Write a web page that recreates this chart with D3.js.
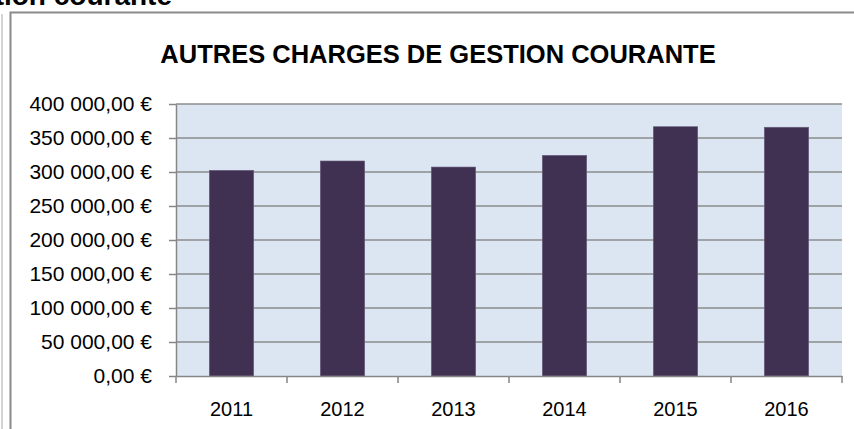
<!DOCTYPE html>
<html>
<head>
<meta charset="utf-8">
<script src="https://cdn.jsdelivr.net/npm/d3@7"></script>
<style>
  body { margin: 0; background: #fff; }
  svg { display: block; }
  .axis text { font-family: "Liberation Sans", Arial, sans-serif; font-size: 20px; fill: #000; }
  .axis.y text { font-size: 21px; }
  .axis path, .axis line { stroke: #868686; stroke-width: 1.5; }
</style>
</head>
<body>
<svg width="854" height="429"></svg>
<script>
// Data
const years = ["2011", "2012", "2013", "2014", "2015", "2016"];
const charges = [302500, 316200, 307300, 324500, 366600, 365800];
const yTicks = [0, 50000, 100000, 150000, 200000, 250000, 300000, 350000, 400000];

const plot = {left: 176, right: 842, top: 104, bottom: 376};

const svg = d3.select("svg");

// sheet heading, cut off at the top of the screenshot
svg.append("text")
   .attr("x", 172)
   .attr("y", 5)
   .attr("text-anchor", "end")
   .style("font-family", "Liberation Sans, Arial, sans-serif")
   .style("font-weight", "bold")
   .style("font-size", "28px")
   .text("Autres charges de gestion courante");

// light cell border on the far left
svg.append("line")
   .attr("x1", 2).attr("x2", 2)
   .attr("y1", 14).attr("y2", 429)
   .style("stroke", "#d4d4d4")
   .style("stroke-width", 2);

// chart frame
svg.append("rect")
   .attr("x", 10.5).attr("y", 12.5)
   .attr("width", 860).attr("height", 440)
   .style("fill", "#fff")
   .style("stroke", "#8a8a8a")
   .style("stroke-width", 2);

svg.append("text")
   .attr("x", 438)
   .attr("y", 63)
   .attr("text-anchor", "middle")
   .style("font-family", "Liberation Sans, Arial, sans-serif")
   .style("font-weight", "bold")
   .style("font-size", "25.5px")
   .text("AUTRES CHARGES DE GESTION COURANTE");

const xScale = d3.scaleBand()
                 .domain(years)
                 .range([plot.left, plot.right])
                 .paddingInner(0.6)
                 .paddingOuter(0.3);

const xBand = d3.scaleBand()
                .domain(years)
                .range([plot.left, plot.right]);

const yScale = d3.scaleLinear()
                 .domain([0, 400000])
                 .range([plot.bottom, plot.top]);

// plot area background
svg.append("rect")
   .attr("x", plot.left)
   .attr("y", plot.top)
   .attr("width", plot.right - plot.left)
   .attr("height", plot.bottom - plot.top)
   .style("fill", "#dce6f2");

// gridlines
svg.append("g")
   .selectAll("line")
   .data(yTicks.slice(1))
   .enter()
   .append("line")
   .attr("x1", plot.left)
   .attr("x2", plot.right)
   .attr("y1", d => yScale(d))
   .attr("y2", d => yScale(d))
   .style("stroke", "#8c8c8c")
   .style("stroke-width", 1.5);

// bars
svg.selectAll(".bar")
   .data(charges)
   .enter()
   .append("rect")
   .classed("bar", true)
   .attr("x", (d, i) => xScale(years[i]))
   .attr("y", d => yScale(d))
   .attr("width", xScale.bandwidth())
   .attr("height", d => plot.bottom - yScale(d))
   .style("fill", "#403152")
   .style("stroke", "#6b6080")
   .style("stroke-width", 0.6);

const fmt = d => d3.format(",.2f")(d).replace(/,/g, " ").replace(".", ",") + " €";

svg.append("g")
   .classed("axis", true)
   .classed("y", true)
   .attr("transform", `translate(${plot.left},0)`)
   .call(d3.axisLeft(yScale).tickValues(yTicks).tickFormat(fmt).tickSize(7).tickSizeOuter(0).tickPadding(17));

// x axis: ticks sit on the category boundaries
svg.append("g")
   .classed("axis", true)
   .attr("transform", `translate(0,${plot.bottom})`)
   .call(d3.axisBottom(xBand).tickSize(0).tickSizeOuter(0).tickPadding(26));

svg.append("g")
   .selectAll("line")
   .data(years.concat(["end"]))
   .enter()
   .append("line")
   .attr("x1", (d, i) => i < years.length ? xBand(d) : plot.right)
   .attr("x2", (d, i) => i < years.length ? xBand(d) : plot.right)
   .attr("y1", plot.bottom)
   .attr("y2", plot.bottom + 7)
   .style("stroke", "#868686")
   .style("stroke-width", 1.5);
</script>
</body>
</html>
